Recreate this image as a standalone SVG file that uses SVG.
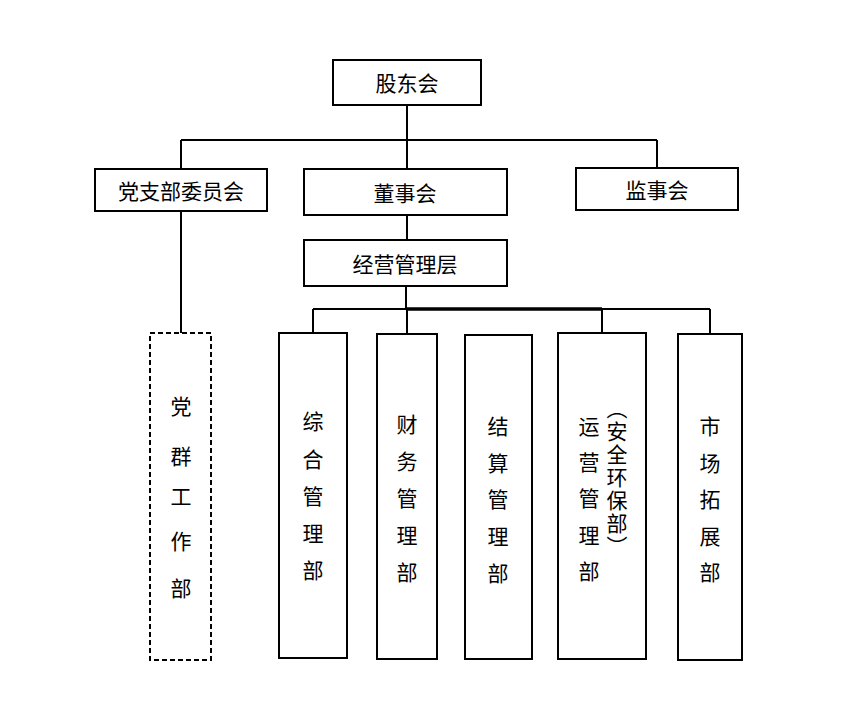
<svg xmlns="http://www.w3.org/2000/svg" width="868" height="708" viewBox="0 0 868 708">
<style>
rect{fill:#fff;stroke:#000;stroke-width:2}
.d{stroke-dasharray:5,3}
text{font-family:"Noto Sans CJK SC","Noto Sans CJK JP",sans-serif;font-size:21px;fill:#000;text-anchor:middle;dominant-baseline:central}
.l{stroke:#000;stroke-width:2;fill:none}
.v{writing-mode:vertical-rl;text-anchor:start;dominant-baseline:auto}
</style>
<g id="connectors">
<path class="l" d="M407 105V240M181 140H657M181 140V169M657 140V168M181 211V333M406 286V309M313 309H710M313 309V333M407 309V334M602 309V333M710 309V334"/>
<path class="l" stroke-width="3" d="M406 309H602" style="stroke-width:3.5"/>
</g>
<g id="gudonghui"><rect x="333" y="60" width="148" height="45"/><text x="407" y="82">股东会</text></g>
<g id="dangzhibu"><rect x="95" y="169" width="172" height="42"/><text x="181" y="190">党支部委员会</text></g>
<g id="dongshihui"><rect x="304" y="169" width="203" height="46"/><text x="405" y="192">董事会</text></g>
<g id="jianshihui"><rect x="576" y="168" width="162" height="42"/><text x="657" y="189">监事会</text></g>
<g id="jingying"><rect x="304" y="240" width="203" height="46"/><text x="405" y="263">经营管理层</text></g>
<g id="dangqun"><rect class="d" x="150" y="333" width="61" height="327"/>
<text x="181" y="405">党</text><text x="181" y="455">群</text><text x="181" y="495">工</text><text x="181" y="540">作</text><text x="181" y="587">部</text></g>
<g id="zonghe"><rect x="279" y="333" width="68" height="325"/>
<text x="313" y="420">综</text><text x="313" y="458">合</text><text x="313" y="495">管</text><text x="313" y="532">理</text><text x="313" y="569">部</text></g>
<g id="caiwu"><rect x="377" y="334" width="60" height="325"/>
<text x="407" y="423">财</text><text x="407" y="460">务</text><text x="407" y="497">管</text><text x="407" y="534">理</text><text x="407" y="571">部</text></g>
<g id="jiesuan"><rect x="465" y="335" width="67" height="324"/>
<text x="498" y="425">结</text><text x="498" y="462">算</text><text x="498" y="498">管</text><text x="498" y="535">理</text><text x="498" y="572">部</text></g>
<g id="yunying"><rect x="558" y="333" width="88" height="326"/>
<text x="589" y="425">运</text><text x="589" y="461">营</text><text x="589" y="497">管</text><text x="589" y="534">理</text><text x="589" y="570">部</text>
<text class="v" x="617" y="398" style="letter-spacing:2px">（安全环保部）</text></g>
<g id="shichang"><rect x="678" y="334" width="64" height="326"/>
<text x="710" y="425">市</text><text x="710" y="462">场</text><text x="710" y="498">拓</text><text x="710" y="535">展</text><text x="710" y="571">部</text></g>
</svg>
